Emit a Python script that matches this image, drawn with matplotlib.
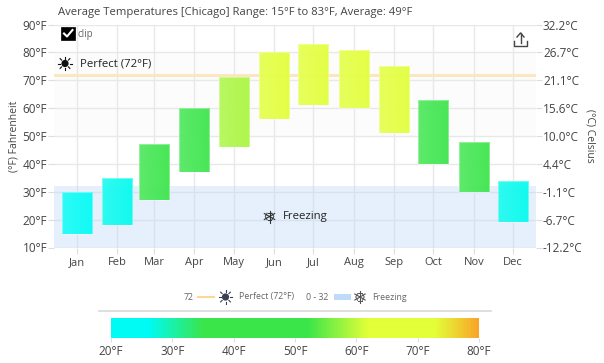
import numpy as np
import pandas as pd
import matplotlib
matplotlib.use("Agg")
import matplotlib.pyplot as plt
import matplotlib.dates as mdates
from matplotlib.colors import LinearSegmentedColormap, Normalize
from matplotlib.patches import Rectangle, Circle

months = ["Jan", "Feb", "Mar", "Apr", "May", "Jun", "Jul", "Aug", "Sep", "Oct", "Nov", "Dec"]
low_f = [15, 18, 27, 37, 46, 56, 61, 60, 51, 40, 30, 19]
high_f = [30, 35, 47, 60, 71, 80, 83, 81, 75, 63, 48, 34]
left_ticks = [10, 20, 30, 40, 50, 60, 70, 80, 90]
right_labels = ["-12.2°C", "-6.7°C", "-1.1°C", "4.4°C", "10.0°C", "15.6°C", "21.1°C", "26.7°C", "32.2°C"]
bar_ticks = [20, 30, 40, 50, 60, 70, 80]
scale_temps = [20, 26, 35, 52, 62, 73, 80]
scale_colors = ["#00fbf5", "#00fbf5", "#3ae54a", "#3ae54a", "#e2ff38", "#e2ff38", "#faa52a"]
perfect = 72
freezing = [0, 32]

plt.rcParams["font.family"] = ["Open Sans", "DejaVu Sans"]
W, H = 604, 363
TEXT = "#444444"

def px_axes(l, t, r, b):
    return [l / W, 1 - b / H, (r - l) / W, (b - t) / H]

fig = plt.figure(figsize=(W / 100, H / 100), dpi=100)
ax = fig.add_axes(px_axes(54, 24.5, 536, 247.5))

dates = pd.to_datetime([f"2023-{m:02d}-01" for m in range(1, 13)])
x = mdates.date2num(dates)

norm = Normalize(scale_temps[0], scale_temps[-1])
cmap = LinearSegmentedColormap.from_list(
    "temps", [(norm(t), c) for t, c in zip(scale_temps, scale_colors)])

ax.axhspan(50, 80, color="#fcfcfc", zorder=0, lw=0)
ax.grid(True, color="#e8e8e8", lw=1, zorder=1)
ax.set_axisbelow(True)
ax.axhspan(freezing[0], freezing[1], color="#bfdbf9", alpha=0.4, zorder=2, lw=0)
ax.axhline(perfect, color="#fde5bd", lw=2, zorder=3)

# bars, each a flat colour with a soft left to right shade
bar_w = 23
for xi, lo, hi in zip(x, low_f, high_f):
    c = np.array(cmap(norm((lo + hi) / 2)))[:3]
    fade = np.linspace(0, 1, 32)[None, :, None]
    left = c + (1 - c) * 0.14
    right = c + (1 - c) * 0.02
    shade = np.ones((1, 32, 4))
    shade[:, :, :3] = left * (1 - fade) + right * fade
    shade[:, :, 3] = 0.95
    rect = Rectangle((xi - bar_w / 2, lo), bar_w, hi - lo, fc="none", ec="none", zorder=4)
    ax.add_patch(rect)
    im = ax.imshow(shade, extent=(xi - bar_w / 2, xi + bar_w / 2, lo, hi),
                   aspect="auto", zorder=4, interpolation="bilinear")
    im.set_clip_path(rect)
    ax.add_patch(Rectangle((xi - bar_w / 2, lo), bar_w, hi - lo, fc="none",
                           ec=(1, 1, 1, 0.35), lw=0.8, zorder=5))
ax.set_xlim(x[0] - 17.6, x[0] + 351.7)
ax.set_ylim(10, 90)

for s in ax.spines.values():
    s.set_visible(False)
ax.set_xticks(x)
ax.set_xticklabels(months)
ax.set_yticks(left_ticks)
ax.set_yticklabels([f"{t}°F" for t in left_ticks])
ax.tick_params(axis="x", length=4, color="#dddddd", labelcolor=TEXT, labelsize=8, pad=3)
ax.tick_params(axis="y", length=4, color="#dddddd", labelcolor=TEXT, labelsize=8.5, pad=1)
ax.set_ylabel("(°F) Fahrenheit", fontsize=7.5, color=TEXT, labelpad=2)

ax2 = ax.twinx()
ax2.set_ylim(10, 90)
ax2.set_yticks(left_ticks)
ax2.set_yticklabels(right_labels)
ax2.tick_params(axis="y", length=4, color="#dddddd", labelcolor=TEXT, labelsize=8.5, pad=1)
for s in ax2.spines.values():
    s.set_visible(False)
ax2.set_ylabel("(°C) Celsius", fontsize=7.5, color=TEXT, rotation=270, labelpad=9)

def ptext(px, py, s, size, color=TEXT, ha="left", **kw):
    return fig.text(px / W, 1 - py / H, s, fontsize=size, color=color, ha=ha, va="center", **kw)

def pline(xs, ys, color, lw, z=7):
    fig.add_artist(plt.Line2D(np.array(xs) / W, 1 - np.array(ys) / H, color=color, lw=lw, zorder=z))

def sun(cx, cy, r, color):
    # disc and eight short rays
    fig.add_artist(Circle((cx, H - cy), r * 0.6, transform=None, fc=color, ec="none", zorder=7))
    for a in np.arange(8) * np.pi / 4:
        pline([cx + r * 0.8 * np.cos(a), cx + r * 1.15 * np.cos(a)],
              [cy + r * 0.8 * np.sin(a), cy + r * 1.15 * np.sin(a)], color, 0.8)

def flake(cx, cy, r, color):
    # six spokes with a small cross branch on each
    for a in np.arange(6) * np.pi / 3 + np.pi / 6:
        ca, sa = np.cos(a), np.sin(a)
        pline([cx, cx + r * ca], [cy, cy + r * sa], color, 0.8)
        mx, my = cx + r * 0.62 * ca, cy + r * 0.62 * sa
        pline([mx - r * 0.28 * sa, mx + r * 0.28 * sa], [my + r * 0.28 * ca, my - r * 0.28 * ca], color, 0.7)

ptext(58, 13, "Average Temperatures [Chicago] Range: 15°F to 83°F, Average: 49°F", 8.15)

# clip checkbox
fig.add_artist(Rectangle((61 / W, 1 - 40 / H), 14 / W, 13 / H, transform=fig.transFigure,
                         fc="black", ec="black", lw=0.5, zorder=6))
pline([64, 67, 72.5], [33.5, 36.5, 30], "white", 1.5)
ptext(78, 34, "clip", 7, color="#666666", zorder=7)

# annotations inside the plot
sun(65, 63.5, 6, "#111111")
ptext(80, 63.5, "Perfect (72°F)", 8.2, color="#222222", zorder=7)
flake(269.5, 216.5, 6, "#333333")
ptext(283, 216.5, "Freezing", 8.2, color="#222222", zorder=7)

# export icon
ic = "#444444"
pline([514, 514, 527, 527], [41, 45.5, 45.5, 41], ic, 1.0)
pline([520.5, 520.5], [33, 43], ic, 1.0)
pline([517, 520.5, 524], [37, 33, 37], ic, 1.0)

# legend row
ptext(184, 297, "72", 6.3, color="#666666")
pline([198, 214], [297, 297], "#fbd898", 1.5)
sun(225.5, 297, 6, "#3a3f52")
ptext(239, 297, "Perfect (72°F)", 6.3, color="#666666")
ptext(306, 297, "0 - 32", 6.3, color="#666666")
fig.add_artist(Rectangle((333.5 / W, 1 - 300 / H), 17.5 / W, 6 / H, transform=fig.transFigure,
                         fc="#bfdbf9", ec="none"))
flake(360, 297, 6, "#555555")
ptext(372.5, 297, "Freezing", 6.3, color="#666666")

# colour scale
pline([99, 491], [311, 311], "#d9d9d9", 1.2)
cax = fig.add_axes(px_axes(111, 318, 479, 338))
grad = np.linspace(scale_temps[0], scale_temps[-1], 368)[None, :]
cax.imshow(grad, cmap=cmap, norm=norm, aspect="auto", extent=(20, 80, 0, 1))
cax.set_yticks([])
cax.set_xticks(bar_ticks)
cax.set_xticklabels([f"{t}°F" for t in bar_ticks])
cax.tick_params(axis="x", length=3, color="#dddddd", labelcolor=TEXT, labelsize=8.5, pad=2)
for s in cax.spines.values():
    s.set_visible(False)

fig.savefig("out.png", dpi=100)
